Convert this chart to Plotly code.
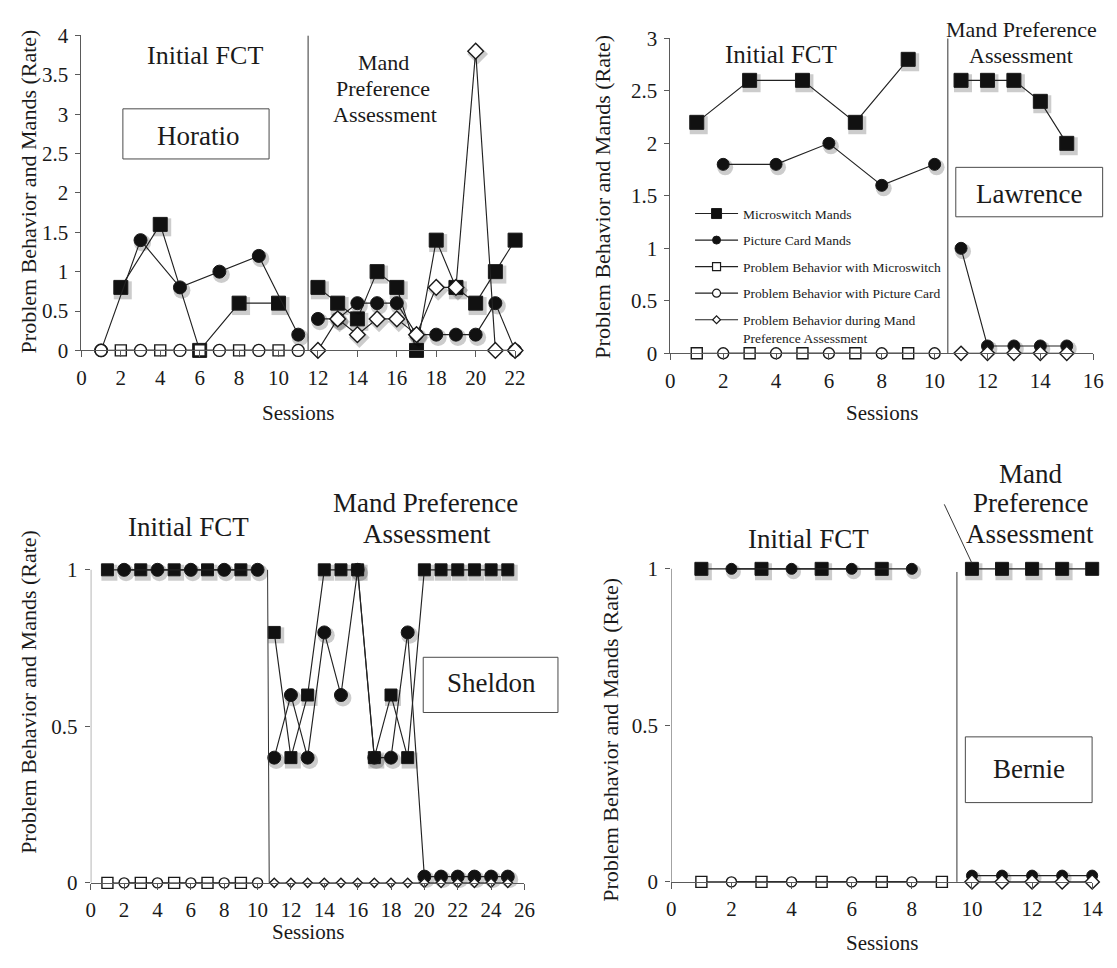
import plotly.graph_objects as go

W, H = 1117, 968
FONT = "Liberation Serif, Times New Roman, DejaVu Serif, serif"
INK = "#1a1a1a"
AXIS = "#5a5a5a"

# ---------------- Horatio ----------------
hor_ms_s1 = [2, 4, 6, 8, 10]
hor_ms_v1 = [0.8, 1.6, 0, 0.6, 0.6]
hor_pc_s1 = [1, 3, 5, 7, 9, 11]
hor_pc_v1 = [0, 1.4, 0.8, 1.0, 1.2, 0.2]
hor_s2 = [12, 13, 14, 15, 16, 17, 18, 19, 20, 21, 22]
hor_ms_v2 = [0.8, 0.6, 0.4, 1.0, 0.8, 0, 1.4, 0.8, 0.6, 1.0, 1.4]
hor_pc_v2 = [0.4, 0.4, 0.6, 0.6, 0.6, 0.2, 0.2, 0.2, 0.2, 0.6, 0]
hor_pbm_s = [2, 4, 6, 8, 10]
hor_pbm_v = [0, 0, 0, 0, 0]
hor_pbp_s = [1, 3, 5, 7, 9, 11]
hor_pbp_v = [0, 0, 0, 0, 0, 0]
hor_pba_v = [0, 0.4, 0.2, 0.4, 0.4, 0.2, 0.8, 0.8, 3.8, 0, 0]

# ---------------- Lawrence ----------------
law_ms_s1 = [1, 3, 5, 7, 9]
law_ms_v1 = [2.2, 2.6, 2.6, 2.2, 2.8]
law_pc_s1 = [2, 4, 6, 8, 10]
law_pc_v1 = [1.8, 1.8, 2.0, 1.6, 1.8]
law_s2 = [11, 12, 13, 14, 15]
law_ms_v2 = [2.6, 2.6, 2.6, 2.4, 2.0]
law_pc_v2 = [1.0, 0.07, 0.07, 0.07, 0.07]
law_pbm_s = [1, 3, 5, 7, 9]
law_pbm_v = [0, 0, 0, 0, 0]
law_pbp_s = [2, 4, 6, 8, 10]
law_pbp_v = [0, 0, 0, 0, 0]
law_pba_v = [0, 0, 0, 0, 0]

# ---------------- Sheldon ----------------
she_ms_s1 = [1, 3, 5, 7, 9]
she_ms_v1 = [1, 1, 1, 1, 1]
she_pc_s1 = [2, 4, 6, 8, 10]
she_pc_v1 = [1, 1, 1, 1, 1]
she_s2 = [11, 12, 13, 14, 15, 16, 17, 18, 19, 20, 21, 22, 23, 24, 25]
she_ms_v2 = [0.8, 0.4, 0.6, 1, 1, 1, 0.4, 0.6, 0.4, 1, 1, 1, 1, 1, 1]
she_pc_v2 = [0.4, 0.6, 0.4, 0.8, 0.6, 1, 0.4, 0.4, 0.8, 0.02, 0.02, 0.02, 0.02, 0.02, 0.02]
she_pbm_s = [1, 3, 5, 7, 9]
she_pbm_v = [0, 0, 0, 0, 0]
she_pbp_s = [2, 4, 6, 8, 10]
she_pbp_v = [0, 0, 0, 0, 0]
she_pba_v = [0, 0, 0, 0, 0, 0, 0, 0, 0, 0, 0, 0, 0, 0, 0]

# ---------------- Bernie ----------------
ber_ms_s1 = [1, 3, 5, 7]
ber_ms_v1 = [1, 1, 1, 1]
ber_pc_s1 = [2, 4, 6, 8]
ber_pc_v1 = [1, 1, 1, 1]
ber_s2 = [10, 11, 12, 13, 14]
ber_ms_v2 = [1, 1, 1, 1, 1]
ber_pc_v2 = [0.02, 0.02, 0.02, 0.02, 0.02]
ber_pbm_s = [1, 3, 5, 7, 9]
ber_pbm_v = [0, 0, 0, 0, 0]
ber_pbp_s = [2, 4, 6, 8]
ber_pbp_v = [0, 0, 0, 0]
ber_pba_v = [0, 0, 0, 0, 0]

legend_names = [
    "Microswitch Mands",
    "Picture Card Mands",
    "Problem Behavior with Microswitch",
    "Problem Behavior with Picture Card",
    "Problem Behavior during Mand<br>Preference Assessment",
]


def px(x):
    return x / W


def py(y):
    return 1 - y / H


def joined(s1, v1, s2, v2):
    """Two phases as one series with a break between them."""
    return list(s1) + [None] + list(s2), list(v1) + [None] + list(v2)


# axis geometry in pixels: (x at 0, x at max, xmax, y at 0, y top, ytop)
geo = {
    "": (77.5, 517.5, 22, 347, 24, 4),
    "2": (675, 1104, 16, 350, 27, 3),
    "3": (87, 527, 26, 893, 893 - 1.2 * 321, 1.2),
    "4": (676, 1103, 14, 892, 892 - 1.25 * 321, 1.25),
}
yticks = {
    "": [0, 0.5, 1, 1.5, 2, 2.5, 3, 3.5, 4],
    "2": [0, 0.5, 1, 1.5, 2, 2.5, 3],
    "3": [0, 0.5, 1],
    "4": [0, 0.5, 1],
}

fig = go.Figure()
LINE = dict(color="#222222", width=1.15)
SHADOW_DX, SHADOW_DY = 2.0, 3.0  # drop-shadow offset in pixels


def add(xs, ys, ax, symbol, size, filled):
    x0, x1, xmax, y0, y1, ymax = geo[ax]
    dx = SHADOW_DX * xmax / (x1 - x0)
    dy = SHADOW_DY * ymax / (y0 - y1)
    # soft shadow under the markers
    fig.add_trace(go.Scatter(
        x=[None if v is None else v + dx for v in xs],
        y=[None if v is None else v - dy for v in ys],
        xaxis="x" + ax, yaxis="y" + ax, mode="markers", cliponaxis=False,
        showlegend=False, hoverinfo="skip",
        marker=dict(symbol=symbol, size=size + 4, color="rgba(0,0,0,0.2)",
                    line=dict(width=0)),
    ))
    fig.add_trace(go.Scatter(
        x=xs, y=ys, xaxis="x" + ax, yaxis="y" + ax,
        mode="lines+markers", line=LINE, cliponaxis=False,
        connectgaps=False, showlegend=False, hoverinfo="skip",
        marker=dict(symbol=symbol, size=size,
                    color="#111111" if filled else "white",
                    line=dict(color="#1a1a1a", width=1 if filled else 1.4)),
    ))


panels = [
    # axis suffix, data, marker sizes (ms, pc, open sq, open circ, diamond)
    ("", (hor_ms_s1, hor_ms_v1, hor_pc_s1, hor_pc_v1, hor_s2, hor_ms_v2, hor_pc_v2,
          hor_pbm_s, hor_pbm_v, hor_pbp_s, hor_pbp_v, hor_pba_v), (14, 13, 11, 12, 12)),
    ("2", (law_ms_s1, law_ms_v1, law_pc_s1, law_pc_v1, law_s2, law_ms_v2, law_pc_v2,
           law_pbm_s, law_pbm_v, law_pbp_s, law_pbp_v, law_pba_v), (14, 12, 11, 11, 11)),
    ("3", (she_ms_s1, she_ms_v1, she_pc_s1, she_pc_v1, she_s2, she_ms_v2, she_pc_v2,
           she_pbm_s, she_pbm_v, she_pbp_s, she_pbp_v, she_pba_v), (12, 13, 11, 10, 7)),
    ("4", (ber_ms_s1, ber_ms_v1, ber_pc_s1, ber_pc_v1, ber_s2, ber_ms_v2, ber_pc_v2,
           ber_pbm_s, ber_pbm_v, ber_pbp_s, ber_pbp_v, ber_pba_v), (13, 11, 11, 10, 11)),
]

for ax, d, sz in panels:
    ms_s1, ms_v1, pc_s1, pc_v1, s2, ms_v2, pc_v2, pbm_s, pbm_v, pbp_s, pbp_v, pba_v = d
    x, y = joined(ms_s1, ms_v1, s2, ms_v2)
    add(x, y, ax, "square", sz[0], True)
    x, y = joined(pc_s1, pc_v1, s2, pc_v2)
    add(x, y, ax, "circle", sz[1], True)
    add(pbm_s, pbm_v, ax, "square", sz[2], False)
    add(pbp_s, pbp_v, ax, "circle", sz[3], False)
    add(s2, pba_v, ax, "diamond", sz[4], False)

# legend entries (drawn in the Lawrence panel)
leg_sym = [("square", 10, True), ("circle", 8, True), ("square", 8, False),
           ("circle", 8, False), ("diamond", 6, False)]
for i, (name, (sym, size, filled)) in enumerate(zip(legend_names, leg_sym)):
    fig.add_trace(go.Scatter(
        x=[None], y=[None], xaxis="x2", yaxis="y2", name=name,
        mode="lines+markers", line=LINE, legendgroup=str(i),
        marker=dict(symbol=sym, size=size, color="#111111" if filled else "white",
                    line=dict(color="#1a1a1a", width=1 if filled else 1.2)),
    ))

tickfont = dict(family=FONT, size=21, color=INK)
for ax, (x0, x1, xmax, y0, y1, ymax) in geo.items():
    fig.layout["xaxis" + ax] = dict(
        domain=[px(x0), px(x1)], range=[0, xmax], anchor="y" + ax,
        tickmode="linear", tick0=0, dtick=2, ticks="outside", ticklen=6,
        tickcolor=AXIS, showline=True, linecolor=AXIS, linewidth=1,
        showgrid=False, zeroline=False, tickfont=tickfont, ticklabelstandoff=2,
    )
    fig.layout["yaxis" + ax] = dict(
        domain=[py(y0), py(y1)], range=[0, ymax], anchor="x" + ax,
        tickmode="array", tickvals=yticks[ax], ticks="outside", ticklen=5,
        tickcolor=AXIS, showline=ax in ("", "2"), linecolor=AXIS, linewidth=1,
        showgrid=False, zeroline=False, tickfont=tickfont, ticklabelstandoff=3,
    )

shapes = []
# y-axis lines that stop at 1 for the two lower panels
for ax in ("3", "4"):
    shapes.append(dict(type="line", xref="x" + ax, yref="y" + ax, x0=0, x1=0, y0=0, y1=1,
                       line=dict(color=AXIS, width=1)))
# phase change lines
phase = [("", 11.5, 11.5, 0, 4), ("2", 10.5, 10.5, 0, 3),
         ("3", 10.7, 10.6, 0, 1), ("4", 9.5, 9.5, 0, 0.99)]
for ax, xa, xb, ya, yb in phase:
    shapes.append(dict(type="line", xref="x" + ax, yref="y" + ax, x0=xa, x1=xb, y0=ya, y1=yb,
                       line=dict(color="#333333", width=1)))
# pointer from the Bernie phase label
shapes.append(dict(type="line", xref="x4", yref="y4", x0=9.08, y0=1.206, x1=9.99, y1=1.02,
                   line=dict(color="#333333", width=1)))
# name boxes
boxes = [(119.6, 99.3, 267.9, 150.7), (964.6, 159.3, 1113.6, 210),
         (424.3, 661.7, 561, 718.3), (974.3, 743.3, 1102.9, 810.7)]
for bx0, by0, bx1, by1 in boxes:
    shapes.append(dict(type="rect", xref="paper", yref="paper",
                       x0=px(bx0), x1=px(bx1), y0=py(by1), y1=py(by0),
                       line=dict(color="#4a4a4a", width=1), fillcolor="white", layer="below"))

ann = []


def text(t, x, y, size, angle=0):
    ann.append(dict(text=t, x=px(x), y=py(y), xref="paper", yref="paper",
                    xanchor="center", yanchor="middle", showarrow=False, textangle=angle,
                    font=dict(family=FONT, size=size, color=INK)))


# names
text("Horatio", 195.7, 126.7, 27)
text("Lawrence", 1039, 186.7, 27)
text("Sheldon", 494, 688, 27)
text("Bernie", 1039, 776.7, 27)
# phase labels
text("Initial FCT", 203, 45, 26)
text("Mand", 384, 51.7, 22)
text("Preference", 384, 78.3, 22)
text("Assessment", 386, 105, 22)
text("Initial FCT", 787.3, 43.3, 25)
text("Mand Preference", 1031.4, 18.3, 22)
text("Assessment", 1031, 45, 22)
text("Initial FCT", 185.7, 528.3, 27)
text("Mand Preference", 426.8, 503.3, 27)
text("Assessment", 428.6, 535, 27)
text("Initial FCT", 815.4, 540, 27)
text("Mand", 1040, 473.3, 27)
text("Preference", 1040, 503.3, 27)
text("Assessment", 1040, 535, 27)
# axis titles
for xs, ys in [(297.5, 411.7), (889.5, 411), (307, 943), (890, 955)]:
    text("Sessions", xs, ys, 21)
for xs, ys in [(23.3, 184), (606, 189), (24, 697.5), (614, 746)]:
    text("Problem Behavior and Mands (Rate)", xs, ys, 22, -90)

fig.update_layout(
    width=W, height=H, margin=dict(l=0, r=0, t=0, b=0),
    paper_bgcolor="white", plot_bgcolor="rgba(0,0,0,0)",
    shapes=shapes, annotations=ann,
    legend=dict(x=px(695), y=py(191), xanchor="left", yanchor="top",
                bgcolor="rgba(0,0,0,0)", borderwidth=0, tracegroupgap=6,
                itemwidth=43, valign="top",
                font=dict(family=FONT, size=13.5, color=INK)),
)

fig.write_html("out.html")
